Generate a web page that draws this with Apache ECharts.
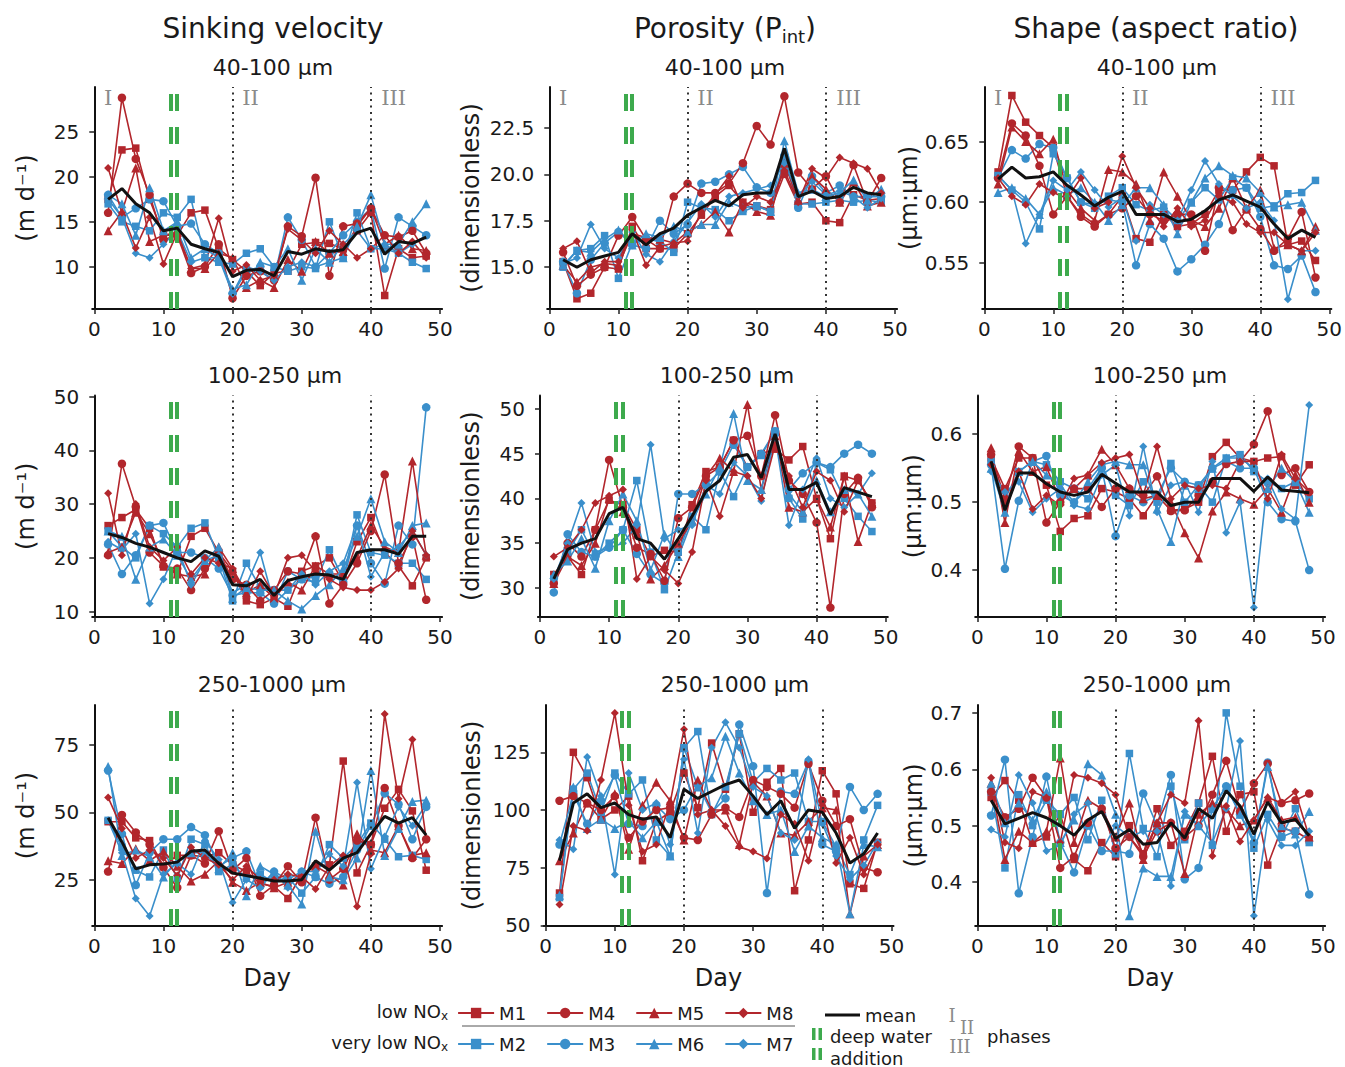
<!DOCTYPE html>
<html><head><meta charset="utf-8">
<script src="https://cdn.jsdelivr.net/npm/echarts@6/dist/echarts.min.js"></script>
<style>html,body{margin:0;padding:0;background:#fff}#c{width:1345px;height:1067px}</style>
</head><body><div id="c"></div><script>
const days = [2,4,6,8,10,12,14,16,18,20,22,24,26,28,30,32,34,36,38,40,42,44,46,48];
const xTickValues = [0,10,20,30,40,50];
const colTitles = ['Sinking velocity', 'Porosity (P', 'Shape (aspect ratio)'];
const rowTitles = ['40-100 µm', '100-250 µm', '250-1000 µm'];
const yTitles = ['(m d⁻¹)', '(dimensionless)', '(µm:µm)'];
const phaseNames = ['I', 'II', 'III'];
const phaseDays = [2.0, 22.6, 43.3];
const deepWaterDays = [11.0, 11.95];
const phaseBoundDays = [20, 40];

// ---- Sinking velocity 40-100 µm
const sv_a_M1 = [17.5,23.0,23.2,17.5,13.5,13.5,16.0,16.3,12.0,10.8,9.5,7.9,9.3,9.5,12.5,12.7,12.6,12.0,14.0,16.0,6.8,12.0,11.0,11.2];
const sv_a_M2 = [17.0,15.0,14.5,14.0,16.0,15.5,17.5,11.0,10.5,10.3,11.5,12.0,10.0,9.5,10.0,9.8,15.0,11.0,16.0,12.0,12.0,11.5,10.5,9.8];
const sv_a_M3 = [18.0,15.5,16.5,17.5,17.3,14.5,14.8,12.5,11.5,7.0,9.5,10.0,8.7,15.5,13.0,10.0,11.5,13.5,15.0,16.5,9.8,15.5,14.5,13.5];
const sv_a_M4 = [16.0,28.8,22.0,18.0,13.0,13.5,9.3,10.0,12.5,6.5,9.0,9.5,8.5,14.5,13.4,19.9,9.0,14.5,14.8,16.5,13.5,13.3,14.0,11.5];
const sv_a_M5 = [14.0,16.1,21.0,12.8,13.5,13.8,9.8,9.8,11.5,11.0,7.7,8.5,7.7,10.8,9.5,12.8,11.5,11.7,14.5,16.5,12.5,13.5,12.0,11.8];
const sv_a_M6 = [18.0,17.0,13.5,18.8,14.0,15.0,11.0,12.0,11.0,7.5,8.0,10.5,10.0,12.0,8.5,12.0,10.5,11.0,14.5,18.0,12.5,12.5,15.0,17.0];
const sv_a_M7 = [17.5,15.5,11.5,11.0,12.5,14.0,10.5,11.0,11.0,7.0,10.0,9.5,8.5,10.0,10.5,10.0,10.5,12.5,14.0,12.0,12.5,11.5,12.5,13.5];
const sv_a_M8 = [21.0,16.0,12.1,15.5,10.3,13.8,9.8,10.2,15.4,9.5,10.2,8.5,9.0,14.2,13.0,11.5,14.0,12.5,11.0,12.0,13.5,11.5,12.8,11.0];
const sv_a_mean = [17.5,18.7,17.0,16.0,14.0,14.3,12.5,12.0,11.6,8.9,9.6,9.7,9.0,11.7,11.4,12.0,11.7,11.9,13.8,14.3,11.4,12.8,12.6,13.3];
const sv_a_ticks = [10,15,20,25];

// ---- Porosity 40-100 µm
const po_a_M1 = [15.3,13.3,13.6,15.0,14.9,17.2,16.0,16.0,16.0,16.8,17.8,18.8,19.4,18.5,18.3,18.1,20.0,18.4,18.5,17.5,17.4,18.9,18.6,18.7];
const po_a_M2 = [15.0,15.9,16.0,16.7,14.4,16.3,16.5,16.4,15.8,18.5,18.2,18.1,17.5,18.0,18.3,18.0,20.9,18.4,18.4,18.5,18.6,18.5,18.6,18.5];
const po_a_M3 = [15.3,13.6,15.4,16.3,16.9,16.2,16.0,17.5,16.8,17.3,19.5,19.6,20.0,20.4,19.3,19.0,21.0,18.2,19.9,19.0,19.4,18.8,18.8,18.8];
const po_a_M4 = [15.8,14.0,14.6,15.0,16.7,17.7,16.5,16.0,18.8,19.5,19.0,19.0,19.5,20.6,22.6,21.6,24.2,20.1,19.2,19.9,18.5,20.5,18.5,19.8];
const po_a_M5 = [15.1,14.2,15.0,15.2,15.1,16.8,16.6,16.5,16.3,16.9,17.3,18.0,16.9,18.5,18.0,17.8,20.6,18.6,19.9,19.2,18.5,19.6,18.3,18.5];
const po_a_M6 = [15.1,15.9,15.8,16.5,17.0,16.2,16.8,16.6,17.2,16.9,17.3,17.3,18.5,18.2,18.3,18.0,21.8,19.0,19.2,18.8,19.0,19.7,18.6,19.2];
const po_a_M7 = [15.2,15.5,17.3,16.0,15.5,16.9,15.7,15.3,16.4,17.4,18.4,17.7,18.8,19.0,19.2,19.4,20.6,18.9,19.6,18.9,19.1,18.8,18.2,18.7];
const po_a_M8 = [16.0,16.4,14.7,15.3,15.3,17.0,15.1,16.1,16.3,16.4,18.0,18.9,19.9,18.2,18.8,18.5,20.2,18.5,20.3,19.8,20.9,20.6,20.3,19.0];
const po_a_mean = [15.4,15.0,15.4,15.6,15.8,16.8,16.2,16.8,17.1,17.8,18.2,18.6,18.3,18.9,19.0,19.0,21.4,18.8,19.1,18.7,18.8,19.3,19.0,18.9];
const po_a_ticks = [15,17.5,20,22.5];

// ---- Shape 40-100 µm
const sh_a_M1 = [0.625,0.688,0.666,0.655,0.645,0.605,0.590,0.582,0.590,0.605,0.570,0.567,0.590,0.580,0.582,0.590,0.610,0.610,0.625,0.637,0.630,0.565,0.568,0.552];
const sh_a_M2 = [0.622,0.610,0.600,0.578,0.640,0.620,0.600,0.595,0.605,0.612,0.598,0.593,0.596,0.585,0.600,0.612,0.602,0.620,0.612,0.595,0.597,0.607,0.608,0.618];
const sh_a_M3 = [0.620,0.643,0.636,0.648,0.645,0.620,0.600,0.598,0.602,0.600,0.548,0.582,0.570,0.543,0.553,0.565,0.582,0.610,0.612,0.588,0.548,0.545,0.556,0.526];
const sh_a_M4 = [0.620,0.665,0.655,0.630,0.590,0.605,0.588,0.580,0.590,0.595,0.605,0.590,0.585,0.590,0.590,0.560,0.612,0.577,0.594,0.578,0.560,0.570,0.592,0.538];
const sh_a_M5 = [0.615,0.662,0.650,0.640,0.652,0.610,0.595,0.585,0.627,0.625,0.615,0.585,0.625,0.605,0.585,0.580,0.595,0.620,0.595,0.610,0.562,0.565,0.560,0.580];
const sh_a_M6 = [0.608,0.612,0.603,0.590,0.612,0.606,0.612,0.600,0.585,0.598,0.612,0.612,0.598,0.574,0.600,0.620,0.630,0.622,0.620,0.608,0.596,0.598,0.600,0.577];
const sh_a_M7 = [0.622,0.610,0.566,0.590,0.618,0.610,0.625,0.610,0.596,0.604,0.568,0.598,0.590,0.585,0.610,0.634,0.615,0.605,0.595,0.600,0.585,0.520,0.560,0.560];
const sh_a_M8 = [0.620,0.605,0.598,0.615,0.608,0.603,0.620,0.595,0.600,0.638,0.612,0.595,0.580,0.595,0.580,0.585,0.605,0.600,0.582,0.575,0.575,0.565,0.560,0.575];
const sh_a_mean = [0.619,0.629,0.620,0.621,0.625,0.614,0.606,0.597,0.604,0.609,0.590,0.590,0.590,0.584,0.586,0.593,0.602,0.606,0.601,0.596,0.582,0.570,0.577,0.571];
const sh_a_ticks = [0.55,0.60,0.65];

// ---- Sinking velocity 100-250 µm
const sv_b_M1 = [26.0,27.5,29.0,25.5,18.3,17.0,24.0,25.5,21.0,17.5,12.0,11.3,12.5,11.0,17.5,18.5,20.0,15.5,23.0,27.5,21.0,18.5,14.8,20.0];
const sv_b_M2 = [25.0,22.0,20.0,26.0,24.5,22.0,25.5,26.5,20.0,12.0,19.0,14.5,14.0,14.0,16.0,15.5,21.5,16.0,28.0,21.0,20.5,19.0,19.0,16.0];
const sv_b_M3 = [22.5,17.0,20.5,26.0,26.5,21.0,21.0,20.0,18.0,13.0,13.5,13.5,11.5,17.5,16.0,16.5,17.0,15.5,26.0,19.0,15.2,26.0,22.5,48.0];
const sv_b_M4 = [20.5,37.5,29.5,21.0,18.5,18.0,14.0,18.0,21.0,16.0,15.0,12.0,14.0,17.5,17.0,24.0,11.5,15.0,19.0,25.0,35.5,19.0,24.0,12.2];
const sv_b_M5 = [21.0,22.0,28.5,24.5,19.0,17.0,16.5,17.0,22.0,18.0,13.5,15.0,12.5,15.5,14.0,18.5,17.0,17.0,20.0,26.0,22.0,21.0,38.0,20.5];
const sv_b_M6 = [25.0,24.0,16.0,22.0,23.5,20.5,16.0,19.5,22.0,12.5,14.5,14.0,14.0,12.0,10.5,13.0,15.0,18.0,24.0,31.0,23.0,21.0,26.0,26.5];
const sv_b_M7 = [23.0,21.5,24.5,11.5,16.0,22.0,15.0,19.5,20.5,13.5,15.0,21.0,11.5,14.0,17.0,15.0,17.5,19.0,26.0,16.5,21.0,22.0,25.0,20.5];
const sv_b_M8 = [32.0,20.5,30.0,22.0,19.5,22.0,17.0,20.0,19.0,18.0,12.5,17.5,13.0,20.0,20.5,17.5,16.0,14.5,14.0,14.0,15.5,18.0,25.0,20.5];
const sv_b_mean = [24.5,23.8,22.7,22.0,21.0,20.0,19.3,21.3,20.3,15.0,14.8,16.0,13.0,15.8,16.5,17.0,16.8,16.0,21.0,21.5,21.5,20.7,24.0,24.0];
const sv_b_ticks = [10,20,30,40,50];

// ---- Porosity 100-250 µm
const po_b_M1 = [31.5,33.5,31.5,36.5,39.8,39.3,36.5,33.5,34.2,34.0,39.3,43.0,43.5,46.5,43.5,45.0,45.5,44.3,45.8,40.0,35.5,42.5,42.0,39.5];
const po_b_M2 = [31.0,34.0,36.5,33.5,35.0,36.5,42.0,34.0,29.8,34.0,38.0,36.5,43.0,40.2,43.5,44.8,47.5,40.0,37.7,44.0,43.2,40.0,38.0,36.3];
const po_b_M3 = [29.5,36.0,34.0,33.5,34.5,36.5,33.8,31.5,30.5,40.5,40.5,41.5,43.0,46.0,43.5,45.0,47.5,41.0,42.8,44.0,43.5,45.0,46.0,45.0];
const po_b_M4 = [30.5,35.0,33.5,36.5,44.3,39.0,34.5,33.8,30.8,37.8,39.0,42.5,43.5,46.5,47.0,42.5,49.3,42.0,40.5,37.3,27.8,40.5,42.3,39.0];
const po_b_M5 = [30.5,33.5,32.5,35.0,40.0,38.5,36.0,31.0,32.5,35.0,37.5,42.5,44.5,43.0,50.5,41.0,47.0,39.0,38.5,40.0,36.8,42.5,35.2,39.5];
const po_b_M6 = [31.5,33.0,35.5,32.2,37.5,40.5,37.5,32.0,36.0,33.5,37.5,40.5,43.5,49.5,42.0,41.0,47.5,40.5,38.5,42.0,38.5,41.0,40.5,38.0];
const po_b_M7 = [31.0,35.0,39.5,34.0,34.5,35.0,37.0,46.0,35.5,36.5,37.0,41.5,40.5,44.0,42.5,39.7,47.0,37.0,41.0,44.5,40.0,39.0,40.5,42.8];
const po_b_M8 = [33.5,34.5,36.5,39.5,40.3,41.0,31.0,33.5,32.0,30.5,34.0,42.0,38.0,43.0,42.5,40.0,46.0,42.5,39.0,43.0,42.0,38.5,42.0,39.5];
const po_b_mean = [31.0,34.3,35.0,35.5,38.3,39.0,35.5,35.0,33.2,35.5,38.0,40.8,42.0,44.6,44.9,42.3,47.2,41.0,41.0,41.8,38.2,41.2,40.7,40.2];
const po_b_ticks = [30,35,40,45,50];

// ---- Shape 100-250 µm
const sh_b_M1 = [0.565,0.520,0.565,0.565,0.525,0.457,0.476,0.480,0.520,0.515,0.505,0.480,0.510,0.488,0.490,0.500,0.567,0.588,0.565,0.560,0.565,0.567,0.525,0.555];
const sh_b_M2 = [0.560,0.505,0.545,0.560,0.555,0.530,0.520,0.505,0.555,0.510,0.495,0.530,0.500,0.557,0.500,0.525,0.500,0.565,0.570,0.545,0.530,0.520,0.530,0.505];
const sh_b_M3 = [0.555,0.402,0.502,0.560,0.568,0.510,0.500,0.520,0.550,0.450,0.510,0.500,0.510,0.550,0.530,0.525,0.550,0.560,0.550,0.550,0.500,0.475,0.472,0.400];
const sh_b_M4 = [0.570,0.505,0.582,0.565,0.470,0.500,0.520,0.520,0.493,0.520,0.520,0.510,0.538,0.487,0.488,0.510,0.530,0.556,0.560,0.585,0.634,0.540,0.550,0.515];
const sh_b_M5 = [0.580,0.470,0.575,0.545,0.552,0.502,0.520,0.540,0.578,0.555,0.520,0.505,0.510,0.500,0.455,0.418,0.487,0.515,0.505,0.497,0.520,0.485,0.540,0.500];
const sh_b_M6 = [0.550,0.485,0.545,0.560,0.540,0.525,0.500,0.530,0.555,0.560,0.555,0.555,0.490,0.442,0.525,0.520,0.550,0.565,0.565,0.550,0.520,0.550,0.530,0.485];
const sh_b_M7 = [0.545,0.515,0.530,0.485,0.505,0.520,0.495,0.490,0.540,0.555,0.480,0.582,0.485,0.525,0.530,0.485,0.560,0.455,0.500,0.345,0.535,0.490,0.475,0.643];
const sh_b_M8 = [0.555,0.495,0.545,0.490,0.510,0.495,0.535,0.540,0.558,0.565,0.570,0.510,0.582,0.505,0.525,0.520,0.525,0.520,0.560,0.560,0.505,0.570,0.535,0.515];
const sh_b_mean = [0.560,0.488,0.543,0.543,0.527,0.515,0.510,0.515,0.541,0.528,0.515,0.515,0.515,0.495,0.500,0.500,0.535,0.535,0.535,0.516,0.537,0.518,0.516,0.514];
const sh_b_ticks = [0.4,0.5,0.6];

// ---- Sinking velocity 250-1000 µm
const sv_c_M1 = [46.5,46.5,40.5,39.5,30.0,34.0,34.0,33.5,35.0,30.5,28.0,23.5,22.5,18.0,27.0,30.0,30.5,69.0,27.5,38.0,51.5,58.5,50.5,28.5];
const sv_c_M2 = [47.0,37.0,28.5,26.0,36.0,25.5,40.0,38.0,28.0,30.5,25.5,27.0,24.0,26.0,20.0,26.0,38.0,33.0,38.0,46.0,40.0,33.5,34.0,32.5];
const sv_c_M3 = [65.5,42.0,23.0,35.0,40.0,40.0,44.5,41.5,30.0,33.0,35.5,22.5,28.0,25.0,28.0,26.0,23.5,26.0,36.0,45.0,57.0,53.0,40.0,52.0];
const sv_c_M4 = [28.0,49.0,42.5,38.0,29.5,22.0,34.0,31.0,43.0,28.5,33.0,19.0,23.0,30.0,24.0,48.0,25.0,29.0,39.5,38.0,59.0,45.0,33.0,40.0];
const sv_c_M5 = [32.0,31.0,36.5,32.0,35.5,30.0,24.5,27.0,32.0,24.0,21.0,24.0,22.0,24.0,27.0,30.0,27.0,23.0,42.0,36.0,35.0,45.0,34.0,35.0];
const sv_c_M6 = [67.0,34.0,36.0,33.5,26.0,32.0,35.0,35.0,29.0,35.0,19.0,30.0,27.0,23.0,16.0,43.0,26.0,25.0,33.0,65.5,34.0,44.0,54.0,54.5];
const sv_c_M7 = [47.0,35.0,18.0,11.5,27.0,31.0,27.0,39.5,32.5,16.5,25.0,22.0,28.0,22.0,28.0,28.0,34.5,30.0,61.0,29.0,41.0,52.0,45.0,53.0];
const sv_c_M8 = [55.5,44.0,33.0,36.0,33.0,26.5,37.0,33.0,30.5,25.0,30.0,25.0,25.0,27.0,26.0,21.5,30.0,34.0,15.0,34.5,86.5,55.0,77.0,40.0];
const sv_c_mean = [48.0,39.0,29.0,30.5,30.8,31.5,35.5,36.0,31.0,27.5,26.5,25.5,24.5,24.5,25.0,32.0,28.5,33.0,35.0,42.0,48.5,46.0,48.0,41.5];
const sv_c_ticks = [25,50,75];

// ---- Porosity 250-1000 µm
const po_c_M1 = [64,125,114,96,100,106,78,95,99,116,101,129,109,133,99,112,118,65,87,117,107,68,66,86];
const po_c_M2 = [62,109,116,99,116,107,113,87,80,127,134,98,110,133,112,118,113,116,95,95,84,72,87,102];
const po_c_M3 = [85,107,94,104,115,94,93,102,96,100,111,99,105,137,119,64,108,107,121,85,82,110,100,107];
const po_c_M4 = [104,106,103,100,106,88,95,100,101,88,87,98,101,97,113,110,107,101,120,104,93,96,75,73];
const po_c_M5 = [78,90,103,96,107,83,102,112,104,87,113,100,100,85,112,106,90,89,95,101,100,55,80,85];
const po_c_M6 = [63,110,92,96,92,95,88,95,80,127,110,114,132,116,104,98,100,82,93,88,85,55,85,84];
const po_c_M7 = [87,83,123,106,72,116,100,103,85,122,90,127,138,127,110,106,90,87,122,94,80,70,76,86];
const po_c_M8 = [59,93,91,113,142,102,82,85,103,135,98,100,93,84,82,79,98,94,78,102,77,88,72,85];
const po_c_mean = [78,103,107,101,103,98,96,97,88,109,105,108,111,113,106,98,104,92,100,99,90,77,81,90];
const po_c_ticks = [50,75,100,125];

// ---- Shape 250-1000 µm
const sh_c_M1 = [0.550,0.580,0.545,0.470,0.480,0.520,0.440,0.420,0.470,0.445,0.500,0.450,0.530,0.465,0.490,0.540,0.623,0.490,0.555,0.560,0.430,0.495,0.490,0.475];
const sh_c_M2 = [0.560,0.425,0.555,0.500,0.545,0.520,0.550,0.475,0.545,0.450,0.628,0.495,0.445,0.570,0.475,0.540,0.465,0.700,0.570,0.460,0.520,0.480,0.530,0.470];
const sh_c_M3 = [0.518,0.617,0.380,0.480,0.587,0.470,0.417,0.500,0.455,0.455,0.450,0.557,0.500,0.590,0.405,0.425,0.530,0.570,0.520,0.470,0.612,0.480,0.490,0.378];
const sh_c_M4 = [0.560,0.515,0.530,0.585,0.550,0.425,0.445,0.505,0.530,0.460,0.480,0.445,0.490,0.505,0.480,0.500,0.555,0.615,0.525,0.575,0.610,0.540,0.545,0.557];
const sh_c_M5 = [0.575,0.440,0.490,0.470,0.490,0.620,0.470,0.545,0.530,0.480,0.540,0.440,0.505,0.505,0.415,0.520,0.540,0.530,0.500,0.510,0.550,0.510,0.515,0.480];
const sh_c_M6 = [0.575,0.505,0.540,0.510,0.560,0.470,0.510,0.610,0.590,0.520,0.340,0.425,0.410,0.410,0.520,0.500,0.530,0.570,0.520,0.475,0.605,0.500,0.485,0.525];
const sh_c_M7 = [0.493,0.480,0.590,0.540,0.455,0.465,0.520,0.540,0.455,0.500,0.480,0.490,0.490,0.393,0.525,0.500,0.470,0.530,0.650,0.340,0.510,0.465,0.465,0.490];
const sh_c_M8 = [0.585,0.470,0.460,0.560,0.550,0.470,0.590,0.585,0.575,0.555,0.480,0.450,0.505,0.555,0.540,0.686,0.446,0.535,0.472,0.510,0.550,0.540,0.560,0.480];
const sh_c_mean = [0.545,0.503,0.513,0.523,0.514,0.500,0.483,0.510,0.525,0.477,0.493,0.467,0.470,0.505,0.478,0.530,0.513,0.562,0.535,0.485,0.542,0.505,0.511,0.482];
const sh_c_ticks = [0.4,0.5,0.6,0.7];

// ---------------- build ----------------
const FONT = 'DejaVu Sans';
const SERIF = 'DejaVu Serif';
const RED = '#B2262C', BLUE = '#3A8FCB', GREEN = '#3DAA4D', TXT = '#1a1a1a';
const seriesOrder = ['M1','M2','M3','M4','M5','M6','M7','M8'];
const mStyle = {
  M1:{c:RED, s:'rect', z:7.5}, M2:{c:BLUE, s:'rect', z:7.5},
  M3:{c:BLUE, s:'circle', z:8.5}, M4:{c:RED, s:'circle', z:8.5},
  M5:{c:RED, s:'triangle', z:9}, M6:{c:BLUE, s:'triangle', z:9},
  M7:{c:BLUE, s:'diamond', z:8}, M8:{c:RED, s:'diamond', z:8}
};
const panelData = {
  sv_a:{M1:sv_a_M1,M2:sv_a_M2,M3:sv_a_M3,M4:sv_a_M4,M5:sv_a_M5,M6:sv_a_M6,M7:sv_a_M7,M8:sv_a_M8,mean:sv_a_mean,ticks:sv_a_ticks},
  po_a:{M1:po_a_M1,M2:po_a_M2,M3:po_a_M3,M4:po_a_M4,M5:po_a_M5,M6:po_a_M6,M7:po_a_M7,M8:po_a_M8,mean:po_a_mean,ticks:po_a_ticks},
  sh_a:{M1:sh_a_M1,M2:sh_a_M2,M3:sh_a_M3,M4:sh_a_M4,M5:sh_a_M5,M6:sh_a_M6,M7:sh_a_M7,M8:sh_a_M8,mean:sh_a_mean,ticks:sh_a_ticks},
  sv_b:{M1:sv_b_M1,M2:sv_b_M2,M3:sv_b_M3,M4:sv_b_M4,M5:sv_b_M5,M6:sv_b_M6,M7:sv_b_M7,M8:sv_b_M8,mean:sv_b_mean,ticks:sv_b_ticks},
  po_b:{M1:po_b_M1,M2:po_b_M2,M3:po_b_M3,M4:po_b_M4,M5:po_b_M5,M6:po_b_M6,M7:po_b_M7,M8:po_b_M8,mean:po_b_mean,ticks:po_b_ticks},
  sh_b:{M1:sh_b_M1,M2:sh_b_M2,M3:sh_b_M3,M4:sh_b_M4,M5:sh_b_M5,M6:sh_b_M6,M7:sh_b_M7,M8:sh_b_M8,mean:sh_b_mean,ticks:sh_b_ticks},
  sv_c:{M1:sv_c_M1,M2:sv_c_M2,M3:sv_c_M3,M4:sv_c_M4,M5:sv_c_M5,M6:sv_c_M6,M7:sv_c_M7,M8:sv_c_M8,mean:sv_c_mean,ticks:sv_c_ticks},
  po_c:{M1:po_c_M1,M2:po_c_M2,M3:po_c_M3,M4:po_c_M4,M5:po_c_M5,M6:po_c_M6,M7:po_c_M7,M8:po_c_M8,mean:po_c_mean,ticks:po_c_ticks},
  sh_c:{M1:sh_c_M1,M2:sh_c_M2,M3:sh_c_M3,M4:sh_c_M4,M5:sh_c_M5,M6:sh_c_M6,M7:sh_c_M7,M8:sh_c_M8,mean:sh_c_mean,ticks:sh_c_ticks}
};
// layout: grid box, axis range, label decimals, y-title centre x
const panels = [
  {key:'sv_a', row:0, col:0, left:92.2,  top:87,    width:349.9, height:222,   min:5.3,   max:30.0,  dec:0, ycx:25},
  {key:'po_a', row:0, col:1, left:547.2, top:87,    width:349.9, height:222,   min:12.75, max:24.7,  dec:1, ycx:470},
  {key:'sh_a', row:0, col:2, left:982.2, top:87,    width:349.9, height:222,   min:0.512, max:0.695, dec:2, ycx:911},
  {key:'sv_b', row:1, col:0, left:92.2,  top:395.5, width:349.9, height:221.5, min:9.0,   max:50.2,  dec:0, ycx:25},
  {key:'po_b', row:1, col:1, left:537.9, top:395.5, width:349.9, height:221.5, min:26.75, max:51.5,  dec:0, ycx:470},
  {key:'sh_b', row:1, col:2, left:975.2, top:395.5, width:349.9, height:221.5, min:0.331, max:0.657, dec:1, ycx:912},
  {key:'sv_c', row:2, col:0, left:92.2,  top:705,   width:349.9, height:221,   min:7.8,   max:89.8,  dec:0, ycx:25},
  {key:'po_c', row:2, col:1, left:543.6, top:705,   width:349.9, height:221,   min:49.7,  max:145.5, dec:0, ycx:471},
  {key:'sh_c', row:2, col:2, left:975.2, top:705,   width:349.9, height:221,   min:0.322, max:0.714, dec:1, ycx:913}
];

const grid = [], xAxis = [], yAxis = [], series = [];
panels.forEach((p, i) => {
  const d = panelData[p.key];
  grid.push({left:p.left, top:p.top, width:p.width, height:p.height});
  xAxis.push({
    type:'value', gridIndex:i, min:-0.3, max:50.3,
    splitLine:{show:false},
    axisLine:{lineStyle:{color:'#111', width:2}},
    axisTick:{show:true, length:5, customValues:xTickValues, lineStyle:{color:'#222', width:1.5}},
    axisLabel:{customValues:xTickValues, margin:10, fontSize:20, fontFamily:FONT, color:TXT},
    name: p.row === 2 ? 'Day' : '', nameLocation:'middle', nameGap:40,
    nameTextStyle:{fontSize:24, fontFamily:FONT, color:TXT}
  });
  yAxis.push({
    type:'value', gridIndex:i, min:p.min, max:p.max,
    splitLine:{show:false},
    axisLine:{show:true, lineStyle:{color:'#111', width:2}},
    axisTick:{show:true, length:5, customValues:d.ticks, lineStyle:{color:'#222', width:1.5}},
    axisLabel:{customValues:d.ticks, margin:13, fontSize:20, fontFamily:FONT, color:TXT,
      formatter:(v)=>Number(v).toFixed(p.dec)},
    name: yTitles[p.col], nameLocation:'middle', nameRotate:90,
    nameGap: p.left - p.ycx - 13,
    nameTextStyle:{fontSize:24, fontFamily:FONT, color:TXT}
  });
  // reference lines (deep water addition + phase boundaries)
  const ml = [];
  deepWaterDays.forEach(x => ml.push({xAxis:x, lineStyle:{color:GREEN, width:4, type:[17,16]}}));
  phaseBoundDays.forEach(x => ml.push({xAxis:x, lineStyle:{color:'#333', width:2, type:[2,4.5]}}));
  series.push({type:'line', xAxisIndex:i, yAxisIndex:i, data:[], silent:true, z:1,
    markLine:{silent:true, symbol:['none','none'], label:{show:false}, animation:false, data:ml}});
  seriesOrder.forEach(nm => {
    const st = mStyle[nm];
    series.push({
      name:nm, type:'line', xAxisIndex:i, yAxisIndex:i, z:3,
      data: days.map((x, k) => [x, d[nm][k]]),
      symbol:st.s, symbolSize:st.z, showSymbol:true,
      lineStyle:{color:st.c, width:1.6}, itemStyle:{color:st.c},
      emphasis:{disabled:true}
    });
  });
  const meanSeries = {
    name:'mean', type:'line', xAxisIndex:i, yAxisIndex:i, z:5,
    data: days.map((x, k) => [x, d.mean[k]]),
    symbol:'none', lineStyle:{color:'#111', width:3}, itemStyle:{color:'#111'},
    emphasis:{disabled:true}
  };
  if (p.row === 0) {
    const yv = p.max - (11 / p.height) * (p.max - p.min);
    meanSeries.markPoint = {
      silent:true, symbol:'circle', symbolSize:0, animation:false,
      label:{show:true, position:'inside', formatter:'{b}', fontFamily:SERIF, fontSize:21, color:'#8a8a8a'},
      data: phaseNames.map((n, k) => ({name:n, coord:[phaseDays[k], yv]}))
    };
  }
  series.push(meanSeries);
});

// text measuring for sub/superscripts
const mc = document.createElement('canvas').getContext('2d');
function tw(t, size, fam){ mc.font = size + 'px "' + fam + '"'; return mc.measureText(t).width; }
function txt(x, y, text, size, opts){
  opts = opts || {};
  return {type:'text', x:x, y:y, silent:true, style:{text:text, fill:opts.fill || TXT,
    font: size + 'px "' + (opts.fam || FONT) + '"',
    textAlign: opts.align || 'center', textVerticalAlign:'middle', verticalAlign:'middle'}};
}
const graphic = [];
// column titles
graphic.push(txt(273, 28, colTitles[0], 28));
(function(){
  const a = colTitles[1], b = 'int', c = ')';
  const w1 = tw(a, 28, FONT), w2 = tw(b, 18, FONT), w3 = tw(c, 28, FONT);
  let x0 = 725 - (w1 + w2 + w3) / 2;
  graphic.push(txt(x0, 28, a, 28, {align:'left'}));
  graphic.push(txt(x0 + w1, 36, b, 18, {align:'left'}));
  graphic.push(txt(x0 + w1 + w2, 28, c, 28, {align:'left'}));
})();
graphic.push(txt(1156, 28, colTitles[2], 28));
// row subtitles
const subY = [67, 375, 684];
const subX = [[273, 725, 1157], [275, 727, 1160], [272, 735, 1157]];
for (let r = 0; r < 3; r++) for (let c = 0; c < 3; c++) graphic.push(txt(subX[r][c], subY[r], rowTitles[r], 22));
// legend side labels
function noxLabel(rightX, y, pre){
  const w1 = tw(pre + 'NO', 18, FONT), w2 = tw('x', 12, FONT);
  graphic.push(txt(rightX - w2 - w1, y, pre + 'NO', 18, {align:'left'}));
  graphic.push(txt(rightX - w2, y + 5, 'x', 12, {align:'left'}));
}
noxLabel(448, 1011, 'low ');
noxLabel(448, 1042, 'very low ');
graphic.push({type:'line', silent:true, shape:{x1:462, y1:1026, x2:795, y2:1026}, style:{stroke:'#555', lineWidth:1}});
// deep water legend key
[812, 818.5].forEach(x => {
  graphic.push({type:'rect', silent:true, shape:{x:x, y:1028, width:3.5, height:12}, style:{fill:GREEN}});
  graphic.push({type:'rect', silent:true, shape:{x:x, y:1048, width:3.5, height:12}, style:{fill:GREEN}});
});
graphic.push(txt(830, 1036, 'deep water', 18, {align:'left'}));
graphic.push(txt(830, 1058, 'addition', 18, {align:'left'}));
// phases legend key
graphic.push(txt(952, 1015, 'I', 18, {fam:SERIF, fill:'#8a8a8a'}));
graphic.push(txt(967, 1027, 'II', 18, {fam:SERIF, fill:'#8a8a8a'}));
graphic.push(txt(960, 1046, 'III', 18, {fam:SERIF, fill:'#8a8a8a'}));
graphic.push(txt(987, 1036, 'phases', 18, {align:'left'}));

const legendCommon = {itemWidth:36, itemHeight:13, itemGap:20, selectedMode:false, orient:'horizontal',
  lineStyle:{width:2.2}, textStyle:{fontSize:18, fontFamily:FONT, color:TXT}};
const option = {
  animation:false,
  backgroundColor:'#fff',
  grid, xAxis, yAxis, series, graphic,
  legend:[
    Object.assign({data:['M1','M4','M5','M8'], left:452, top:999}, legendCommon),
    Object.assign({data:['M2','M3','M6','M7'], left:452, top:1030}, legendCommon),
    Object.assign({}, legendCommon, {data:[{name:'mean', icon:'rect'}], left:820, top:1001, itemWidth:35, itemHeight:3})
  ]
};
const chart = echarts.init(document.getElementById('c'), null, {renderer:'svg'});
chart.setOption(option);
</script></body></html>
